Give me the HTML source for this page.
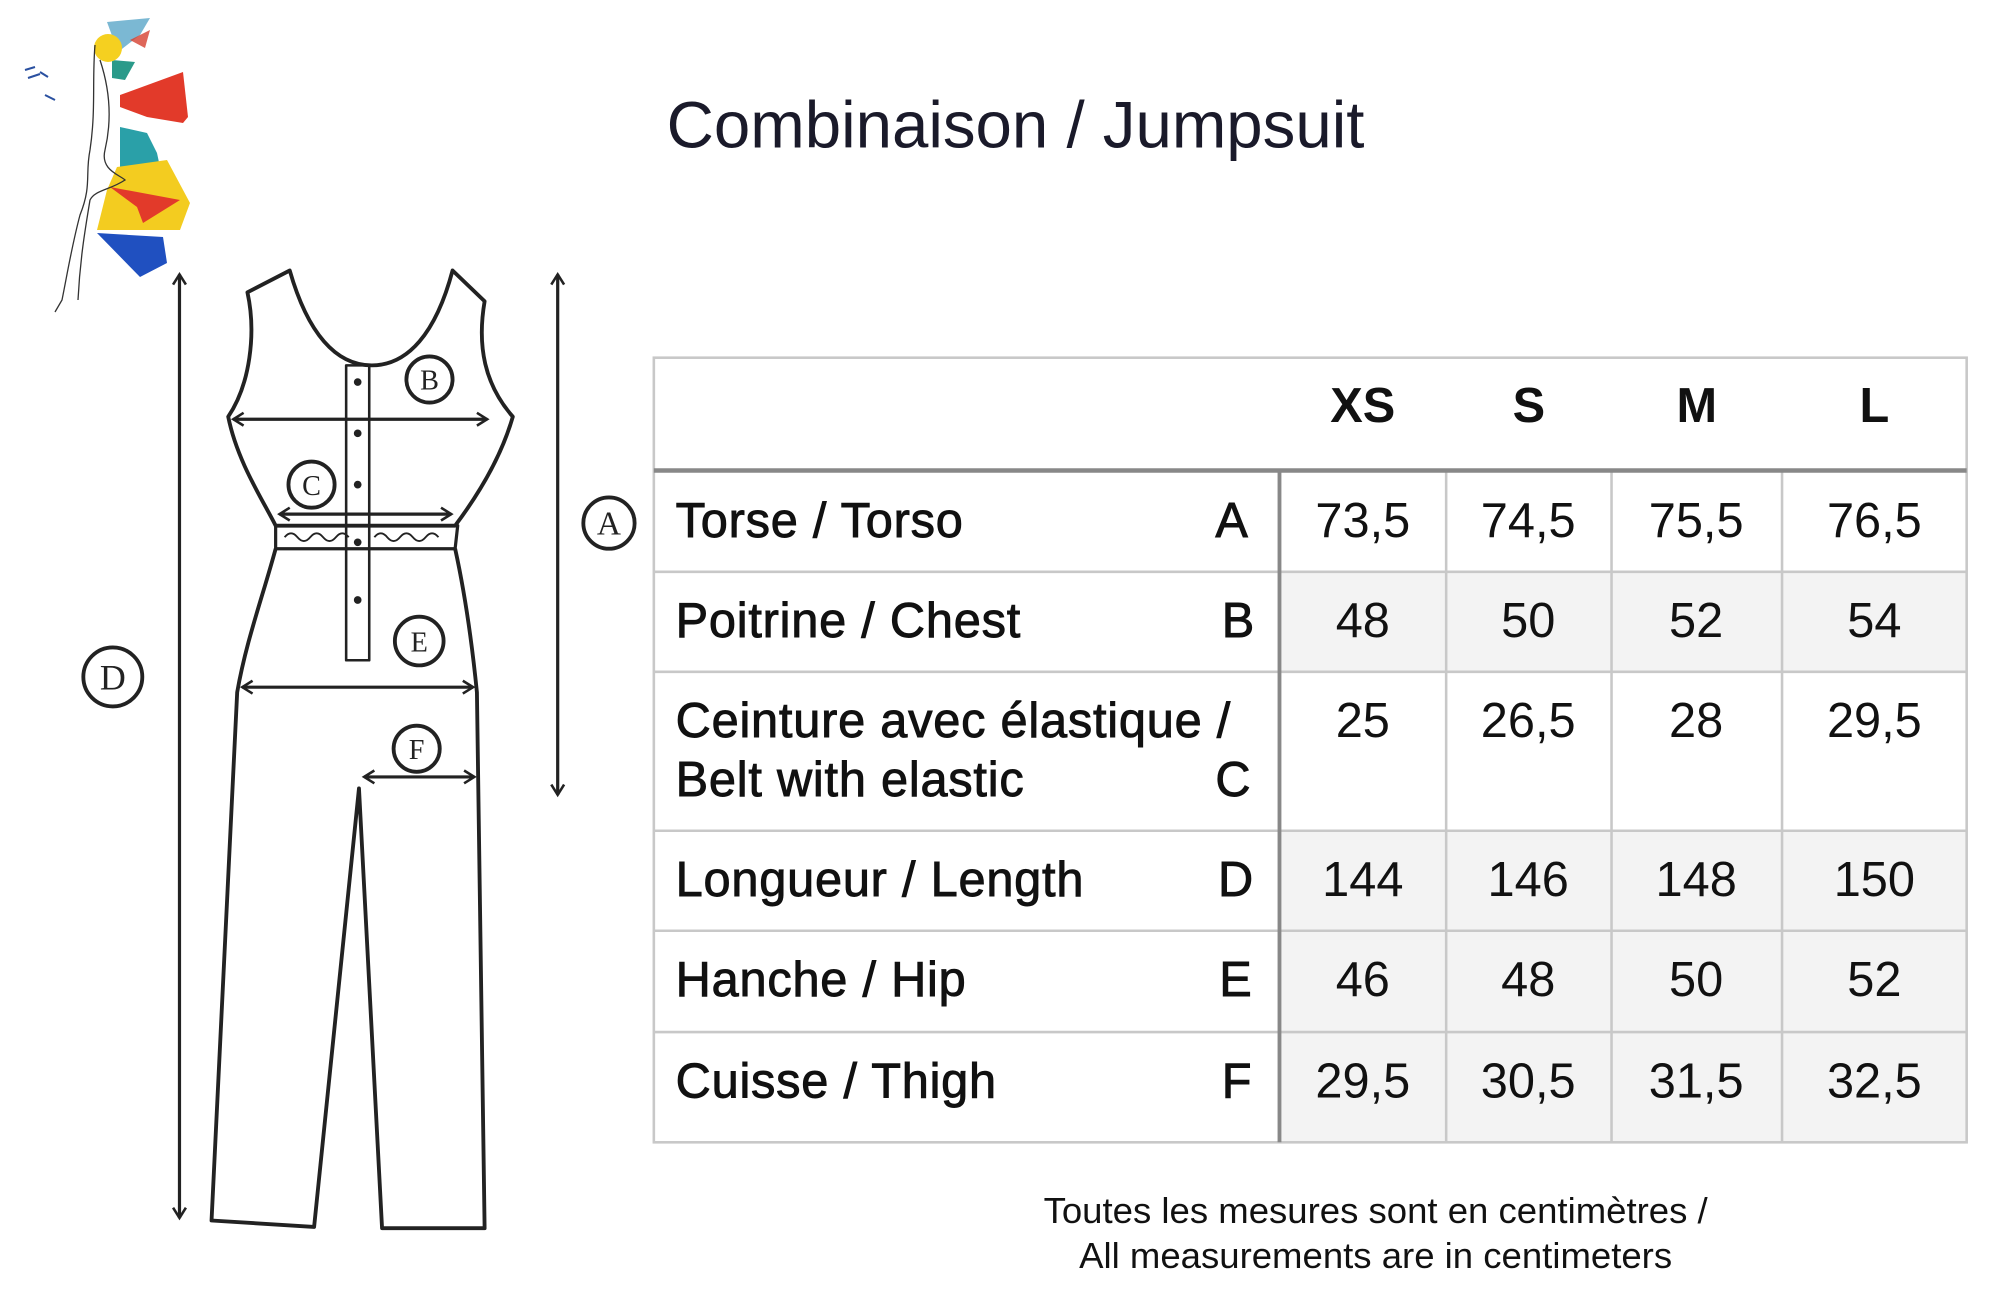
<!DOCTYPE html>
<html><head><meta charset="utf-8"><style>
html,body{margin:0;padding:0;background:#fff;}
#wrap{position:relative;width:2000px;height:1300px;overflow:hidden;background:#fff;}
#s{position:absolute;left:0;top:0;width:1560px;height:1014px;transform:scale(1.28205);transform-origin:0 0;font-family:"Liberation Sans",Arial,sans-serif;color:#111;}
.t{position:absolute;white-space:nowrap;}
.lab{font-size:38px;letter-spacing:0.6px;-webkit-text-stroke:0.7px #111;}
.num{font-size:38px;width:130px;text-align:center;}
.hd{font-size:38px;font-weight:bold;text-align:center;}
</style></head><body><div id="wrap">
<svg style="position:absolute;left:0;top:0" width="260" height="340" viewBox="0 0 260 340">
 <path d="M107,22 L150,18 L140,35 L118,52 Z" fill="#5aa6c8" opacity="0.8"/>
 <path d="M130,40 L150,30 L145,48 Z" fill="#d64030" opacity="0.8"/>
 <path d="M120,95 L183,72 L188,117 L183,123 L147,117 L120,107 Z" fill="#e23a2a"/>
 <path d="M112,60 L135,62 L125,80 L112,78 Z" fill="#2a9a8a"/>
 <path d="M120,127 L147,133 L157,153 L160,167 L120,167 Z" fill="#2aa0a8"/>
 <path d="M117,167 L167,160 L190,203 L180,230 L97,230 L107,190 Z" fill="#f3cc20"/>
 <path d="M110,187 L180,200 L143,223 L137,207 Z" fill="#e23a2a"/>
 <path d="M97,233 L163,237 L167,263 L140,277 Z" fill="#2050c0"/>
 <circle cx="108" cy="48" r="14" fill="#f5d020"/>
 <path d="M95,45 C92,80 96,110 90,150 C85,175 92,185 80,215 C72,245 68,270 62,300 L55,312 M100,60 C110,90 112,120 105,150 C100,170 120,175 125,180 C110,190 95,190 90,200 C85,230 80,260 78,300" fill="none" stroke="#333" stroke-width="1.3"/>
 <path d="M25,70 l10,-3 M28,78 l12,-4 M40,72 l8,5 M45,95 l10,5" stroke="#2a50a0" stroke-width="2"/>
</svg>
<div id="s">
<svg style="position:absolute;left:0;top:0" width="1560" height="1014" viewBox="0 0 1560 1014">
 <defs><marker id="ar" markerWidth="12" markerHeight="12" refX="9" refY="6" orient="auto-start-reverse" markerUnits="userSpaceOnUse"><path d="M1,1 L9,6 L1,11" fill="none" stroke="#222" stroke-width="2"/></marker></defs>
 <g fill="none" stroke="#222" stroke-width="3" stroke-linejoin="round">
  <path d="M193,228 L226,211 C240,260 262,285 290,285 C318,285 340,260 353,211 L378,235 C372,270 378,300 400,325 C390,360 370,390 355,410 L215,410 C205,390 185,360 178,325 C195,300 200,260 193,228 Z"/>
  <path d="M215,428 C205,465 192,500 185,540 L165,952 L245,957 L280,615 L298,958 L378,958 L372,540 C368,500 362,460 355,428"/>
  <path d="M215,410 L357,410 L355,428 L215,428 Z" stroke-width="2.5"/>
  <path d="M222,419 q5,-6 10,0 q5,6 10,0 q5,-6 10,0 q5,6 10,0 q5,-6 10,0 M292,419 q5,-6 10,0 q5,6 10,0 q5,-6 10,0 q5,6 10,0 q5,-6 10,0" stroke-width="1.5"/>
  <rect x="270" y="285" width="18" height="230" stroke-width="2"/>
 </g>
 <g fill="#222"><circle cx="279" cy="298" r="3"/><circle cx="279" cy="338" r="3"/><circle cx="279" cy="378" r="3"/><circle cx="279" cy="423" r="3"/><circle cx="279" cy="468" r="3"/></g>
 <g stroke="#222" stroke-width="2.5" marker-start="url(#ar)" marker-end="url(#ar)">
  <line x1="140" y1="214" x2="140" y2="950"/>
  <line x1="435" y1="214" x2="435" y2="620"/>
  <line x1="182" y1="327" x2="380" y2="327"/>
  <line x1="218" y1="401" x2="352" y2="401"/>
  <line x1="189" y1="536" x2="369" y2="536"/>
  <line x1="284" y1="606" x2="370" y2="606"/>
 </g>
 <g fill="#fff" stroke="#222" stroke-width="3">
  <circle cx="335" cy="296" r="18"/><circle cx="243" cy="378" r="18"/><circle cx="327" cy="500" r="19"/><circle cx="325" cy="584" r="18"/><circle cx="475" cy="408" r="20"/><circle cx="88" cy="528" r="23"/>
 </g>
 <g font-family="Liberation Serif,serif" font-size="22" text-anchor="middle" fill="#222">
  <text x="335" y="304">B</text><text x="243" y="386">C</text><text x="327" y="508">E</text><text x="325" y="592">F</text><text x="475" y="417" font-size="26">A</text><text x="88" y="538" font-size="28">D</text>
 </g>
 <g fill="#f3f3f3"><rect x="998" y="446" width="536" height="78"/><rect x="998" y="648" width="536" height="78"/><rect x="998" y="726" width="536" height="79"/><rect x="998" y="805" width="536" height="86"/></g>
 <g stroke="#c8c8c8" stroke-width="2" fill="none">
  <rect x="510" y="279" width="1024" height="612"/>
  <line x1="510" y1="446" x2="1534" y2="446"/><line x1="510" y1="524" x2="1534" y2="524"/><line x1="510" y1="648" x2="1534" y2="648"/><line x1="510" y1="726" x2="1534" y2="726"/><line x1="510" y1="805" x2="1534" y2="805"/>
  <line x1="1128" y1="367" x2="1128" y2="891"/><line x1="1257" y1="367" x2="1257" y2="891"/><line x1="1390" y1="367" x2="1390" y2="891"/>
 </g>
 <line x1="510" y1="367" x2="1534" y2="367" stroke="#888" stroke-width="3.5"/>
 <line x1="998" y1="367" x2="998" y2="891" stroke="#888" stroke-width="3"/>
</svg>
<div class="t" style="left:520px;top:68px;font-size:51px;color:#1a1a2a;">Combinaison / Jumpsuit</div>
<div class="t hd" style="left:998px;top:296px;width:130px;">XS</div>
<div class="t hd" style="left:1128px;top:296px;width:129px;">S</div>
<div class="t hd" style="left:1257px;top:296px;width:133px;">M</div>
<div class="t hd" style="left:1390px;top:296px;width:144px;">L</div>

<div class="t lab" style="left:527px;top:386px;">Torse / Torso</div>
<div class="t lab" style="left:948px;top:386px;">A</div>
<div class="t lab" style="left:527px;top:464px;">Poitrine / Chest</div>
<div class="t lab" style="left:953px;top:464px;">B</div>
<div class="t lab" style="left:527px;top:542px;">Ceinture avec élastique /</div>
<div class="t lab" style="left:527px;top:588px;">Belt with elastic</div>
<div class="t lab" style="left:948px;top:588px;">C</div>
<div class="t lab" style="left:527px;top:666px;">Longueur / Length</div>
<div class="t lab" style="left:950px;top:666px;">D</div>
<div class="t lab" style="left:527px;top:744px;">Hanche / Hip</div>
<div class="t lab" style="left:951px;top:744px;">E</div>
<div class="t lab" style="left:527px;top:823px;">Cuisse / Thigh</div>
<div class="t lab" style="left:953px;top:823px;">F</div>

<div class="t num" style="left:998px;top:386px;">73,5</div><div class="t num" style="left:1127px;top:386px;">74,5</div><div class="t num" style="left:1258px;top:386px;">75,5</div><div class="t num" style="left:1397px;top:386px;">76,5</div>
<div class="t num" style="left:998px;top:464px;">48</div><div class="t num" style="left:1127px;top:464px;">50</div><div class="t num" style="left:1258px;top:464px;">52</div><div class="t num" style="left:1397px;top:464px;">54</div>
<div class="t num" style="left:998px;top:542px;">25</div><div class="t num" style="left:1127px;top:542px;">26,5</div><div class="t num" style="left:1258px;top:542px;">28</div><div class="t num" style="left:1397px;top:542px;">29,5</div>
<div class="t num" style="left:998px;top:666px;">144</div><div class="t num" style="left:1127px;top:666px;">146</div><div class="t num" style="left:1258px;top:666px;">148</div><div class="t num" style="left:1397px;top:666px;">150</div>
<div class="t num" style="left:998px;top:744px;">46</div><div class="t num" style="left:1127px;top:744px;">48</div><div class="t num" style="left:1258px;top:744px;">50</div><div class="t num" style="left:1397px;top:744px;">52</div>
<div class="t num" style="left:998px;top:823px;">29,5</div><div class="t num" style="left:1127px;top:823px;">30,5</div><div class="t num" style="left:1258px;top:823px;">31,5</div><div class="t num" style="left:1397px;top:823px;">32,5</div>

<div class="t" style="left:723px;top:928px;width:700px;text-align:center;font-size:28.5px;line-height:35px;">Toutes les mesures sont en centimètres /<br>All measurements are in centimeters</div>
</div></div></body></html>
